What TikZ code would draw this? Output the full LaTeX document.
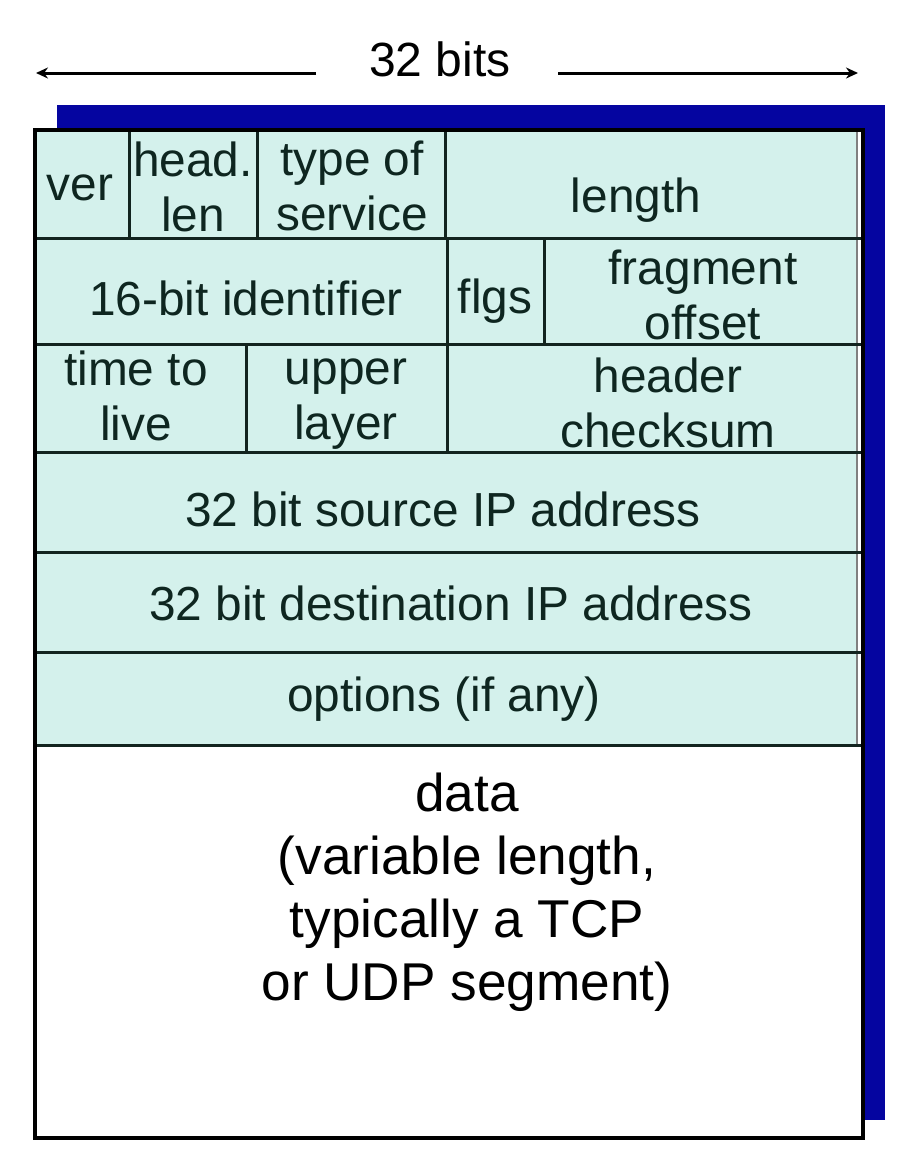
\documentclass[tikz,border=0pt]{standalone}
\usepackage{fontspec}
\setmainfont{Liberation Sans}
\usetikzlibrary{arrows.meta}
\definecolor{hdrfill}{RGB}{212,241,236}
\definecolor{shadowblue}{RGB}{5,5,160}
\definecolor{ink}{RGB}{14,38,32}
\definecolor{rulecol}{RGB}{18,36,31}
\begin{document}
\begin{tikzpicture}[x=1pt,y=-1pt,
  field/.style={font=\fontsize{47.8}{55}\selectfont, text=ink, align=center, inner sep=0pt},
  datatext/.style={font=\fontsize{53.2}{63}\selectfont, text=black, align=center, inner sep=0pt},
  toplabel/.style={font=\fontsize{48}{55}\selectfont, text=black, inner sep=0pt},
  gridline/.style={draw=rulecol, line width=3pt},
  frameline/.style={draw=black, line width=3.5pt},
  dimarrow/.style={draw=black, line width=3pt, -{Stealth[length=12pt,width=11pt]}}]
\useasboundingbox (0,0) rectangle (917,1154);
% shadow and fills
\fill[shadowblue] (57,105) rectangle (885,1120);
\fill[white] (35,745) rectangle (863,1138);
\fill[hdrfill] (35,130) rectangle (863,745);
\fill[white] (858,130) rectangle (862,745);
\draw[gray, line width=1.5pt] (857,130) -- (857,745);
% horizontal rules
\foreach \yy in {238,344,452,552,652,745}
  \draw[gridline] (35,\yy) -- (863,\yy);
% vertical rules
\draw[gridline] (129,130) -- (129,238);
\draw[gridline] (257,130) -- (257,238);
\draw[gridline] (445,130) -- (445,238);
\draw[gridline] (447,238) -- (447,344);
\draw[gridline] (544,238) -- (544,344);
\draw[gridline] (246,344) -- (246,452);
\draw[gridline] (447,344) -- (447,452);
% frame
\draw[frameline] (35,130) rectangle (863,1138);
% top dimension
\node[toplabel] (bits) at (440,59) {32 bits};
\coordinate (la) at (316,73);
\coordinate (lb) at (36,73);
\coordinate (ra) at (558,73);
\coordinate (rb) at (858,73);
\draw[dimarrow] (la) -- (lb);
\draw[dimarrow] (ra) -- (rb);
% field labels
\node[field] (ver) at (80,187.5) {ver};
\node[field] (hlen) at (193,186.5) {head.\\len};
\node[field] (tos) at (352,185.5) {type of\\service};
\node[field] (len) at (636,200.5) {length};
\node[field] (ident) at (246,298) {16-bit identifier};
\node[field] (flgs) at (495,301.5) {flgs};
\node[field] (frag) at (703,295) {fragment\\offset};
\node[field] (ttl) at (136,396) {time to\\live};
\node[field] (upper) at (346,404.5) {upper\\layer};
\node[field] (csum) at (668,403) {header\\checksum};
\node[field] (src) at (443,509) {32 bit source IP address};
\node[field] (dst) at (451,603) {32 bit destination IP address};
\node[field] (opts) at (444,699.5) {options (if any)};
\node[datatext] (data) at (467,892.5) {data\\(variable length,\\typically a TCP\\or UDP segment)};
\end{tikzpicture}
\end{document}
